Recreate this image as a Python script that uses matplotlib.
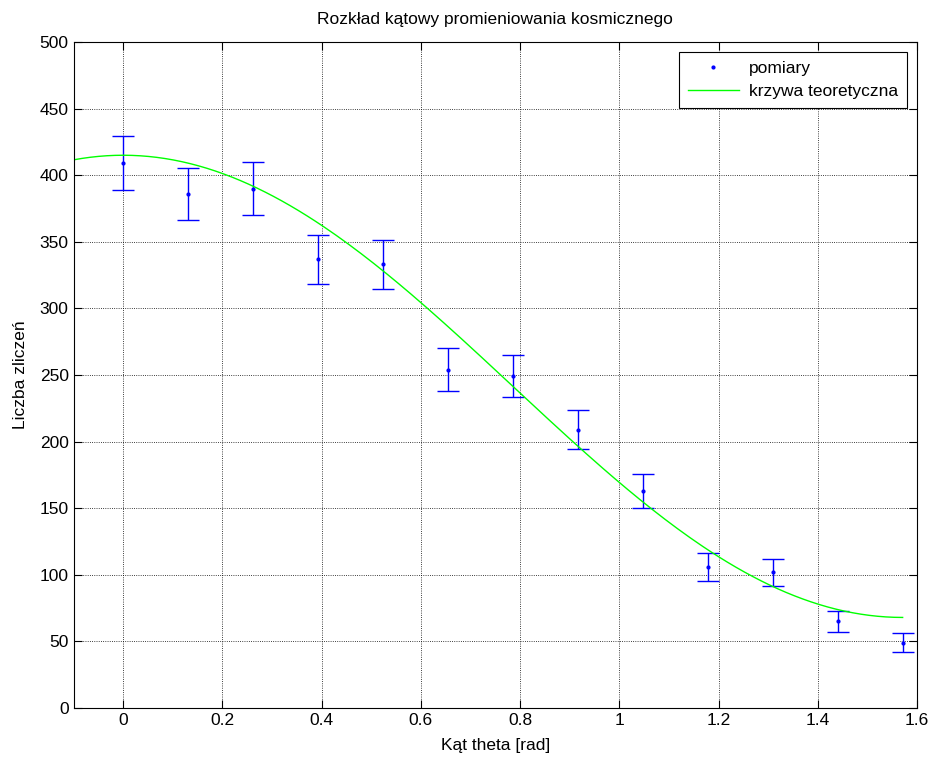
import numpy as np
import matplotlib
matplotlib.use('Agg')
import matplotlib.pyplot as plt

# pomiary co pi/24
theta = np.arange(13) * np.pi / 24
counts = np.array([409, 386, 390, 337, 333, 254, 249, 209, 163, 106, 102, 65, 49])
errors = np.sqrt(counts)

# parametry krzywej teoretycznej N = A cos^2(theta) + B
A = 347.0
B = 68.0
theta_fit = np.linspace(-0.1, np.pi / 2, 200)

plt.rcParams['font.family'] = ['Liberation Sans', 'DejaVu Sans']
fs = 12.5

fig = plt.figure(figsize=(9.33, 7.6), dpi=100)
ax = fig.add_axes([0.0788, 0.0684, 0.9042, 0.8763])

ax.errorbar(theta, counts, yerr=errors, fmt='none', ecolor='#0000ff',
            elinewidth=1, capsize=8, capthick=1)
ax.plot(theta, counts, '.', color='#0000ff', markersize=4, label='pomiary')
ax.plot(theta_fit, A * np.cos(theta_fit) ** 2 + B, color='#00ff00', lw=1,
        label='krzywa teoretyczna')

ax.set_xlim(-0.1, 1.6)
ax.set_ylim(0, 500)
ax.set_xticks(np.arange(0, 1.61, 0.2))
ax.set_xticklabels(['0', '0.2', '0.4', '0.6', '0.8', '1', '1.2', '1.4', '1.6'])
ax.set_yticks(np.arange(0, 501, 50))
ax.grid(True, linestyle=':', color='k', lw=0.6)
ax.tick_params(direction='in', top=True, right=True, length=6, labelsize=fs)

ax.set_title('Rozkład kątowy promieniowania kosmicznego', fontsize=fs, pad=13)
ax.set_xlabel('Kąt theta [rad]', fontsize=fs, labelpad=7)
ax.set_ylabel('Liczba zliczeń', fontsize=fs, labelpad=8)

leg = ax.legend(loc='upper right', fancybox=False, edgecolor='k', framealpha=1,
                fontsize=fs, borderaxespad=0.6, handlelength=2.9,
                handletextpad=0.6, labelspacing=0.45, borderpad=0.5)
leg.get_frame().set_linewidth(0.8)

fig.savefig('out.png', dpi=100)
